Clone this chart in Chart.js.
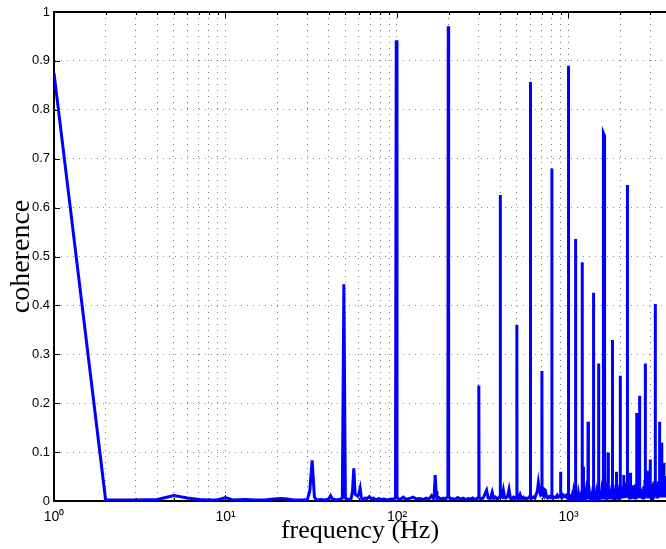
<!DOCTYPE html>
<html lang="en">
<head>
  <meta charset="UTF-8">
  <title>coherence</title>
  <script src="https://cdn.jsdelivr.net/npm/chart.js"></script>
  <style>
    html, body { margin: 0; padding: 0; background: #fff; }
    #wrap { width: 666px; height: 549px; }
  </style>
</head>
<body>
  <div id="wrap">
    <canvas id="cohChart" width="666" height="549"></canvas>
  </div>

  <script>
    // coherence vs frequency (Hz), in three bands
    const lowFreqs = [
      1, 2, 3, 4, 5, 6, 7, 8, 9, 10,
      11, 13, 15, 17, 19, 21, 23, 25, 28, 30,
      31, 32, 33, 34, 36, 38, 40, 41, 42, 44,
      46, 48, 49, 50, 52, 54, 55, 56, 57, 58,
      59, 60, 61, 62, 63, 65, 67, 69, 71, 73,
      75, 78, 81, 84, 87, 90, 93, 96, 98, 99,
      100, 102, 105, 109, 113, 118, 124, 130, 136, 142,
      148, 154, 159, 163, 165, 167, 169, 171, 175, 180,
      186, 192, 198, 199, 200, 205, 210, 218, 226, 235,
      243, 252, 260, 268, 276, 285, 293
    ];
    const lowCoh = [
      0.875, 0.002, 0.002, 0.003, 0.011, 0.006, 0.003, 0.002, 0.002, 0.007,
      0.002, 0.003, 0.002, 0.002, 0.004, 0.005, 0.004, 0.002, 0.002, 0.003,
      0.020, 0.083, 0.008, 0.002, 0.003, 0.002, 0.004, 0.011, 0.004, 0.002,
      0.003, 0.006, 0.443, 0.006, 0.003, 0.004, 0.020, 0.067, 0.014, 0.012,
      0.010, 0.015, 0.026, 0.006, 0.002, 0.006, 0.005, 0.009, 0.004, 0.006,
      0.002, 0.005, 0.003, 0.004, 0.002, 0.003, 0.004, 0.003, 0.008, 0.942,
      0.008, 0.003, 0.004, 0.008, 0.003, 0.005, 0.008, 0.004, 0.005, 0.003,
      0.006, 0.004, 0.011, 0.005, 0.015, 0.053, 0.020, 0.005, 0.007, 0.004,
      0.006, 0.004, 0.010, 0.971, 0.010, 0.004, 0.005, 0.003, 0.007, 0.004,
      0.006, 0.003, 0.005, 0.004, 0.006, 0.003, 0.005
    ];

    const midFreqs = [
      299, 300, 301, 310, 320, 333, 340, 350, 359, 366,
      375, 385, 392, 399, 400, 401, 410, 417, 424, 432,
      441, 450, 458, 468, 478, 488, 499, 500, 501, 512,
      522, 532, 545, 555, 566, 578, 590, 599, 600, 601,
      612, 625, 637, 648, 658, 667, 677, 688, 699, 700,
      701, 715, 722, 733, 745, 758, 772, 786, 799, 800,
      801, 815, 830, 845, 860, 875, 888, 899, 900, 901,
      915, 930, 945, 960, 975, 988, 999, 1000
    ];
    const midCoh = [
      0.008, 0.236, 0.008, 0.003, 0.008, 0.022, 0.006, 0.005, 0.018, 0.005,
      0.008, 0.004, 0.006, 0.010, 0.626, 0.010, 0.008, 0.022, 0.007, 0.006,
      0.009, 0.024, 0.006, 0.005, 0.008, 0.004, 0.010, 0.360, 0.008, 0.005,
      0.013, 0.005, 0.008, 0.004, 0.006, 0.005, 0.007, 0.012, 0.857, 0.012,
      0.006, 0.008, 0.006, 0.014, 0.020, 0.037, 0.020, 0.012, 0.014, 0.266,
      0.014, 0.010, 0.024, 0.022, 0.008, 0.006, 0.009, 0.007, 0.012, 0.680,
      0.012, 0.006, 0.008, 0.007, 0.012, 0.008, 0.010, 0.012, 0.060, 0.010,
      0.007, 0.012, 0.009, 0.011, 0.008, 0.014, 0.015, 0.890
    ];

    const highFreqs = [
      1001, 1008, 1016, 1024, 1033, 1041, 1050, 1060, 1070, 1080,
      1090, 1099, 1100, 1101, 1110, 1120, 1130, 1142, 1153, 1165,
      1177, 1188, 1199, 1200, 1201, 1208, 1217, 1218, 1219, 1230,
      1242, 1255, 1268, 1280, 1290, 1299, 1300, 1301, 1312, 1325,
      1338, 1350, 1362, 1375, 1388, 1399, 1400, 1401, 1413, 1426,
      1440, 1453, 1466, 1480, 1490, 1499, 1500, 1501, 1515, 1530,
      1545, 1560, 1575, 1588, 1597, 1598, 1615, 1617, 1630, 1645,
      1660, 1675, 1688, 1699, 1700, 1701, 1715, 1730, 1745, 1760,
      1775, 1790, 1799, 1800, 1801, 1815, 1830, 1845, 1860, 1875,
      1890, 1899, 1900, 1901, 1915, 1930, 1945, 1960, 1975, 1990,
      1999, 2000, 2001, 2015, 2030, 2045, 2060, 2075, 2090, 2099,
      2100, 2101, 2120, 2140, 2160, 2180, 2199, 2200, 2201, 2220,
      2240, 2260, 2280, 2299, 2300, 2301, 2320, 2340, 2360, 2380,
      2390, 2400, 2410, 2430, 2450, 2470, 2490, 2499, 2500, 2501,
      2520, 2540, 2560, 2580, 2599, 2600, 2601, 2625, 2650, 2675,
      2700, 2720, 2745, 2770, 2790, 2799, 2800, 2801, 2820, 2840,
      2860, 2880, 2899, 2900, 2901, 2920, 2945, 2970, 2990, 2999,
      3000, 3001, 3030, 3050, 3075, 3100, 3125, 3150, 3175, 3199,
      3200, 3201, 3225, 3250, 3275, 3290, 3300, 3325, 3350, 3375,
      3399, 3400, 3401, 3425, 3450, 3475, 3499, 3500, 3501, 3525,
      3550, 3575, 3599, 3600, 3601, 3625, 3650, 3675, 3699, 3700
    ];
    const highCoh = [
      0.015, 0.003, 0.012, 0.004, 0.014, 0.003, 0.010, 0.004, 0.016, 0.005,
      0.012, 0.018, 0.536, 0.016, 0.004, 0.013, 0.003, 0.015, 0.005, 0.012,
      0.004, 0.016, 0.020, 0.488, 0.020, 0.004, 0.015, 0.070, 0.015, 0.004,
      0.014, 0.003, 0.017, 0.005, 0.015, 0.018, 0.162, 0.014, 0.004, 0.016,
      0.003, 0.018, 0.005, 0.014, 0.004, 0.020, 0.426, 0.016, 0.004, 0.019,
      0.005, 0.015, 0.003, 0.018, 0.006, 0.022, 0.281, 0.020, 0.005, 0.020,
      0.004, 0.018, 0.006, 0.022, 0.030, 0.752, 0.748, 0.025, 0.005, 0.020,
      0.004, 0.024, 0.006, 0.025, 0.099, 0.022, 0.005, 0.022, 0.004, 0.025,
      0.006, 0.028, 0.028, 0.329, 0.025, 0.006, 0.024, 0.005, 0.026, 0.007,
      0.030, 0.030, 0.060, 0.022, 0.006, 0.026, 0.005, 0.028, 0.008, 0.030,
      0.030, 0.256, 0.026, 0.006, 0.028, 0.005, 0.030, 0.008, 0.030, 0.030,
      0.053, 0.025, 0.006, 0.028, 0.007, 0.035, 0.035, 0.646, 0.030, 0.007,
      0.030, 0.006, 0.035, 0.035, 0.058, 0.028, 0.007, 0.030, 0.008, 0.030,
      0.008, 0.032, 0.008, 0.028, 0.006, 0.035, 0.010, 0.040, 0.180, 0.035,
      0.008, 0.030, 0.006, 0.040, 0.040, 0.215, 0.030, 0.008, 0.025, 0.005,
      0.012, 0.006, 0.030, 0.008, 0.040, 0.040, 0.281, 0.035, 0.008, 0.035,
      0.007, 0.030, 0.030, 0.062, 0.030, 0.008, 0.030, 0.010, 0.040, 0.040,
      0.085, 0.035, 0.010, 0.035, 0.005, 0.030, 0.008, 0.040, 0.010, 0.040,
      0.403, 0.030, 0.008, 0.035, 0.010, 0.008, 0.026, 0.010, 0.040, 0.010,
      0.040, 0.162, 0.040, 0.010, 0.040, 0.010, 0.040, 0.119, 0.040, 0.010,
      0.040, 0.010, 0.040, 0.078, 0.030, 0.010, 0.030, 0.010, 0.030, 0.051
    ];

    // axis ticks
    const xGridValues = [
      1, 2, 3, 4, 5, 6, 7, 8, 9,
      10, 20, 30, 40, 50, 60, 70, 80, 90,
      100, 200, 300, 400, 500, 600, 700, 800, 900,
      1000, 2000, 3000
    ];
    const xTickLabels = { 1: '10\u2070', 10: '10\u00b9', 100: '10\u00b2', 1000: '10\u00b3' };
    const yTickValues = [0, 0.1, 0.2, 0.3, 0.4, 0.5, 0.6, 0.7, 0.8, 0.9, 1];
    const yTickLabels = ['0', '0.1', '0.2', '0.3', '0.4', '0.5', '0.6', '0.7', '0.8', '0.9', '1'];

    const xMin = 1;
    const xMax = 3703;

    const freqs = lowFreqs.concat(midFreqs, highFreqs);
    const coherence = lowCoh.concat(midCoh, highCoh);

    // top border and inward tick marks (matlab style box)
    const boxTicks = {
      id: 'boxTicks',
      beforeDatasetsDraw(chart) {
        const { ctx, chartArea: a, scales: { x, y } } = chart;
        ctx.save();
        ctx.strokeStyle = '#000';
        ctx.lineWidth = 2;
        ctx.beginPath();
        ctx.moveTo(a.left - 1, a.top);
        ctx.lineTo(a.right, a.top);
        ctx.stroke();

        ctx.lineWidth = 1;
        ctx.beginPath();
        xGridValues.forEach(v => {
          const px = Math.round(x.getPixelForValue(v)) + 0.5;
          const len = xTickLabels[v] ? 6 : 3;
          ctx.moveTo(px, a.bottom);
          ctx.lineTo(px, a.bottom - len);
          ctx.moveTo(px, a.top);
          ctx.lineTo(px, a.top + len);
        });
        yTickValues.forEach(v => {
          const py = Math.round(y.getPixelForValue(v)) + 0.5;
          ctx.moveTo(a.left, py);
          ctx.lineTo(a.left + 6, py);
        });
        ctx.stroke();
        ctx.restore();
      }
    };

    const ctx = document.getElementById('cohChart').getContext('2d');
    const cohChart = new Chart(ctx, {
      type: 'line',
      data: {
        datasets: [{
          label: 'coherence',
          data: freqs.map((f, i) => ({ x: f, y: coherence[i] })),
          borderColor: '#0000ff',
          borderWidth: 3,
          pointRadius: 0,
          tension: 0,
          fill: false
        }]
      },
      options: {
        responsive: false,
        animation: false,
        layout: { padding: { top: 12, right: 0, left: 0, bottom: 0 } },
        plugins: {
          legend: { display: false },
          tooltip: { enabled: false }
        },
        scales: {
          x: {
            type: 'logarithmic',
            min: xMin,
            max: xMax,
            afterBuildTicks: s => { s.ticks = xGridValues.map(v => ({ value: v })); },
            afterFit: s => { s.height = 48; },
            grid: { color: 'rgba(0,0,0,0.55)', lineWidth: 1, drawTicks: false },
            border: { color: '#000', width: 2, dash: [1, 5] },
            ticks: {
              autoSkip: false,
              maxRotation: 0,
              minRotation: 0,
              padding: 8,
              color: '#000',
              font: { family: 'Liberation Sans', size: 14 },
              callback: v => xTickLabels[v] || ''
            },
            title: {
              display: true,
              text: 'frequency (Hz)',
              color: '#000',
              font: { family: 'Liberation Serif', size: 26 },
              padding: { top: 0, bottom: 2 }
            }
          },
          y: {
            min: 0,
            max: 1,
            afterBuildTicks: s => { s.ticks = yTickValues.map(v => ({ value: v })); },
            afterFit: s => { s.width = 54; },
            grid: { color: 'rgba(0,0,0,0.45)', lineWidth: 1, drawTicks: false },
            border: { color: '#000', width: 2, dash: [1, 5] },
            ticks: {
              padding: 4,
              color: '#000',
              font: { family: 'Liberation Sans', size: 13 },
              callback: (v, i) => yTickLabels[i]
            },
            title: {
              display: true,
              text: 'coherence',
              color: '#000',
              font: { family: 'Liberation Serif', size: 28 },
              padding: { top: 5, bottom: 0 }
            }
          }
        }
      },
      plugins: [boxTicks]
    });
  </script>
</body>
</html>
